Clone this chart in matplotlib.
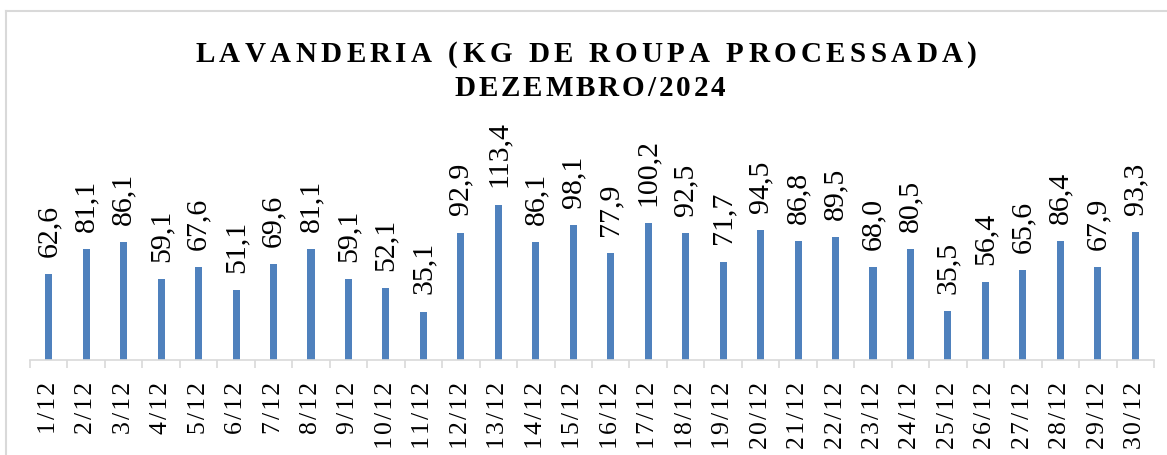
import matplotlib
matplotlib.use("Agg")
import matplotlib.pyplot as plt
from matplotlib.font_manager import FontProperties
from matplotlib.transforms import IdentityTransform
from matplotlib.lines import Line2D

# Daily laundry volume, December 2024 (kg)
days = [f"{d}/12" for d in range(1, 31)]
kg = [62.6, 81.1, 86.1, 59.1, 67.6, 51.1, 69.6, 81.1, 59.1, 52.1,
      35.1, 92.9, 113.4, 86.1, 98.1, 77.9, 100.2, 92.5, 71.7, 94.5,
      86.8, 89.5, 68.0, 80.5, 35.5, 56.4, 65.6, 86.4, 67.9, 93.3]
title_lines = ["LAVANDERIA (KG DE ROUPA PROCESSADA)", "DEZEMBRO/2024"]

W, H, DPI = 1167, 456, 100
BAR = "#4F81BD"
GRID = "#D9D9D9"
SERIF = ["Liberation Serif", "DejaVu Serif"]

fig = plt.figure(figsize=(W / DPI, H / DPI), dpi=DPI)
ax = fig.add_axes([30 / W, (H - 360.5) / H, 1124 / W, 164 / H])

x = list(range(len(days)))
ax.bar(x, kg, width=0.19, color=BAR, zorder=2)
ax.set_xlim(-0.5, len(days) - 0.5)
ax.set_ylim(0, 120)

for s in ("top", "right", "left"):
    ax.spines[s].set_visible(False)
ax.spines["bottom"].set_color(GRID)
ax.spines["bottom"].set_linewidth(1.2)
ax.set_yticks([])

# boundary ticks between categories, labels at category centres
ax.set_xticks([i - 0.5 for i in range(len(days) + 1)])
ax.set_xticklabels([])
ax.tick_params(axis="x", which="major", length=5.5, width=1.2, color=GRID)
ax.set_xticks(x, minor=True)
ax.set_xticklabels(["\u200a".join(d) for d in days], minor=True,
                   rotation=90, fontsize=18.5, family=SERIF)
ax.tick_params(axis="x", which="minor", length=0, pad=15.5)

# value labels above the bars
for xi, v in zip(x, kg):
    ax.annotate(f"{v:.1f}".replace(".", ","), (xi, v), xytext=(0, 13),
                textcoords="offset points", rotation=90, ha="center",
                va="bottom", fontsize=21.5, family=SERIF,
                annotation_clip=False)

# letter-spaced bold title, placed glyph by glyph
renderer = fig.canvas.get_renderer()
tprop = FontProperties(family=SERIF, weight="bold", size=21)


def advance(ch):
    w2 = renderer.get_text_width_height_descent("HH", tprop, ismath=False)[0]
    w3 = renderer.get_text_width_height_descent("H" + ch + "H", tprop, ismath=False)[0]
    return w3 - w2


def spaced_line(text, cx, baseline_from_top, tracking):
    adv = [advance(c) for c in text]
    total = sum(adv) + tracking * (len(text) - 1)
    xpos = cx - total / 2
    for c, a in zip(text, adv):
        fig.text(xpos, H - baseline_from_top, c, fontproperties=tprop,
                 ha="left", va="baseline", transform=IdentityTransform())
        xpos += a + tracking


spaced_line(title_lines[0], 586, 62, 4.4)
spaced_line(title_lines[1], 590, 96, 2.9)

# chart-area border (left and top edges)
fig.add_artist(Line2D([6, 6], [0, H - 12], transform=IdentityTransform(),
                      color=GRID, lw=1.5))
fig.add_artist(Line2D([6, W], [H - 12, H - 12], transform=IdentityTransform(),
                      color=GRID, lw=1.5))

fig.savefig("out.png", dpi=DPI)
